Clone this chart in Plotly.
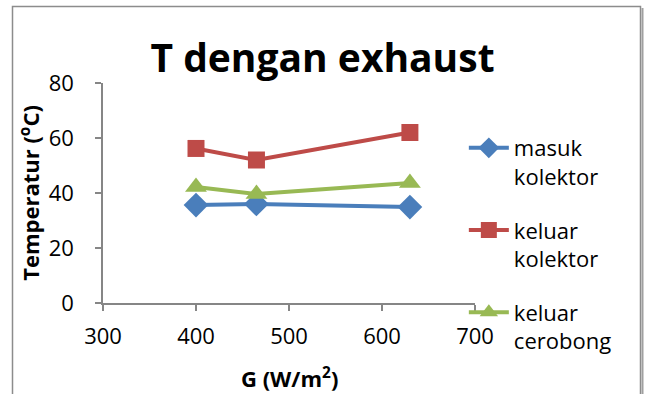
import plotly.graph_objects as go

# Irradiance G (W/m2) and measured temperatures (°C)
G = [400, 465, 630]
masuk_kolektor = [35.6, 36.0, 34.9]
keluar_kolektor = [56.2, 52.0, 62.0]
keluar_cerobong = [42.2, 39.6, 43.6]

series = [
    ("masuk<br>kolektor", masuk_kolektor, "#4A7EBB", "diamond", 19),
    ("keluar<br>kolektor", keluar_kolektor, "#BE4B48", "square", 17),
    ("keluar<br>cerobong", keluar_cerobong, "#98B954", "triangle-up", 19),
]

FONT = "Open Sans"
AXIS_COLOR = "#868686"

fig = go.Figure()
for i, (name, vals, color, symbol, size) in enumerate(series):
    fig.add_trace(go.Scatter(
        x=G, y=vals, name=name, mode="lines+markers",
        legendgroup=f"g{i}",
        line=dict(color=color, width=4),
        marker=dict(symbol=symbol, size=size, color=color),
    ))

# Plot-area geometry in pixels (used for the frame and the x-axis caption)
PW, PH = 372.0, 220.0
def px_x(x):
    return (x - 103) / PW
def px_y(y):
    return (303 - y) / PH

fig.update_layout(
    width=645, height=394,
    margin=dict(l=103, r=170, t=83, b=91),
    paper_bgcolor="white", plot_bgcolor="white",
    font=dict(family=FONT, color="black", size=22),
    title=dict(
        text="<b>T dengan exhaust</b>",
        font=dict(family=FONT, size=39, color="black"),
        x=0.5, xanchor="center", xref="container",
        y=1 - 58 / 394, yanchor="middle", yref="container",
    ),
    showlegend=True,
    legend=dict(
        x=0.97, xanchor="left", y=0.80, yanchor="top",
        font=dict(family=FONT, size=22, color="black"),
        valign="top", tracegroupgap=22, itemwidth=40,
        maxheight=400, bgcolor="rgba(0,0,0,0)",
    ),
    xaxis=dict(
        range=[300, 700], tickvals=[300, 400, 500, 600, 700],
        showgrid=False, zeroline=False,
        showline=True, linecolor=AXIS_COLOR, linewidth=1.5,
        ticks="outside", ticklen=6, tickcolor=AXIS_COLOR, tickwidth=1.5,
        ticklabelstandoff=7,
        tickfont=dict(family=FONT, size=22, color="black"),
    ),
    yaxis=dict(
        range=[0, 80], tickvals=[0, 20, 40, 60, 80],
        showgrid=False, zeroline=False,
        showline=True, linecolor=AXIS_COLOR, linewidth=1.5,
        ticks="outside", ticklen=6, tickcolor=AXIS_COLOR, tickwidth=1.5,
        ticklabelstandoff=17,
        tickfont=dict(family=FONT, size=22, color="black"),
        title=dict(text="<b>Temperatur (<sup>o</sup>C)</b>",
                   font=dict(family=FONT, size=22, color="black"),
                   standoff=3),
    ),
)

# x-axis caption
fig.add_annotation(
    text="<b>G (W/m<sup>2</sup>)</b>", showarrow=False,
    xref="paper", yref="paper", x=0.5, y=px_y(377),
    xanchor="center", yanchor="middle",
    font=dict(family=FONT, size=22, color="black"),
)

# Chart-area frame
fig.add_shape(type="rect", xref="paper", yref="paper",
              x0=px_x(12.5), x1=px_x(640.5), y0=px_y(420), y1=px_y(6.5),
              line=dict(color="#8C8C8C", width=1.5), layer="below")
fig.add_shape(type="line", xref="paper", yref="paper",
              x0=px_x(642.5), x1=px_x(642.5), y0=px_y(420), y1=px_y(8),
              line=dict(color="#A0A0A0", width=2), layer="below")

fig.write_html("out.html")
